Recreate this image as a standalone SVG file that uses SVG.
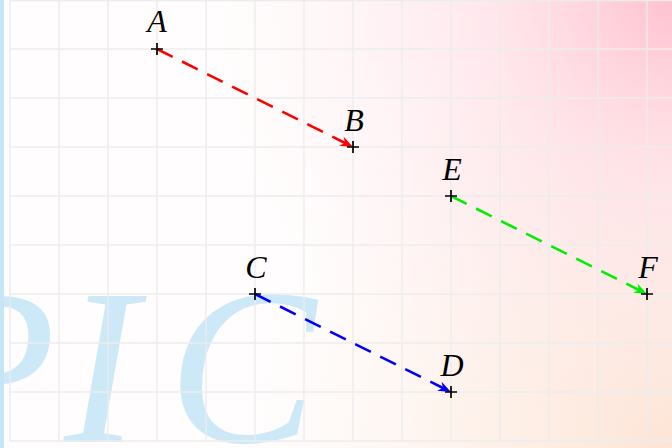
<svg xmlns="http://www.w3.org/2000/svg" width="672" height="448" viewBox="0 0 672 448">
<defs>
<radialGradient id="pink" cx="672" cy="0" r="460" gradientUnits="userSpaceOnUse">
<stop offset="0" stop-color="#ffc2cf" stop-opacity="1"/>
<stop offset="0.4" stop-color="#ffd6df" stop-opacity="0.55"/>
<stop offset="1" stop-color="#ffe8ec" stop-opacity="0"/>
</radialGradient>
<radialGradient id="peach" cx="672" cy="448" r="420" gradientUnits="userSpaceOnUse">
<stop offset="0" stop-color="#fde4d4" stop-opacity="1"/>
<stop offset="0.5" stop-color="#fdeade" stop-opacity="0.55"/>
<stop offset="1" stop-color="#fdf0e8" stop-opacity="0"/>
</radialGradient>
<marker id="arrR" viewBox="-14 -6 15 12" refX="0" refY="0" markerWidth="15" markerHeight="12" markerUnits="userSpaceOnUse" orient="auto"><path d="M0,0 L-13,-5 L-9,0 L-13,5 Z" fill="#ff0000"/></marker>
<marker id="arrG" viewBox="-14 -6 15 12" refX="0" refY="0" markerWidth="15" markerHeight="12" markerUnits="userSpaceOnUse" orient="auto"><path d="M0,0 L-13,-5 L-9,0 L-13,5 Z" fill="#00ee00"/></marker>
<marker id="arrB" viewBox="-14 -6 15 12" refX="0" refY="0" markerWidth="15" markerHeight="12" markerUnits="userSpaceOnUse" orient="auto"><path d="M0,0 L-13,-5 L-9,0 L-13,5 Z" fill="#0000ff"/></marker>
</defs>
<style>
.grid line{stroke:#ececec;stroke-width:1.3}
.pic{font-family:"Liberation Serif","DejaVu Serif",serif;font-style:italic;font-size:222px;fill:#cde9f8}
.lbl{font-family:"Liberation Serif","DejaVu Serif",serif;font-style:italic;font-size:32px;fill:#000;text-anchor:middle}
.mark{stroke:#000;stroke-width:1.7;fill:none}
.conn line{stroke-width:2.6;stroke-dasharray:17.5 10.5;fill:none}
</style>
<rect width="672" height="448" fill="#fffdfd"/>
<rect width="672" height="448" fill="url(#peach)"/>
<rect width="672" height="448" fill="url(#pink)"/>
<g id="watermark">
<text class="pic" x="-80" y="442">P</text>
<text class="pic" x="64" y="442">I</text>
<text class="pic" x="168" y="442">C</text>
</g>
<g class="grid">
<line x1="10" y1="0" x2="10" y2="441"/><line x1="59" y1="0" x2="59" y2="441"/><line x1="108" y1="0" x2="108" y2="441"/><line x1="157" y1="0" x2="157" y2="441"/><line x1="206" y1="0" x2="206" y2="441"/><line x1="255" y1="0" x2="255" y2="441"/><line x1="304" y1="0" x2="304" y2="441"/><line x1="353" y1="0" x2="353" y2="441"/><line x1="402" y1="0" x2="402" y2="441"/><line x1="451" y1="0" x2="451" y2="441"/><line x1="500" y1="0" x2="500" y2="441"/><line x1="549" y1="0" x2="549" y2="441"/><line x1="598" y1="0" x2="598" y2="441"/><line x1="647" y1="0" x2="647" y2="441"/>
<line x1="10" y1="0.7" x2="672" y2="0.7"/><line x1="10" y1="49" x2="672" y2="49"/><line x1="10" y1="98" x2="672" y2="98"/><line x1="10" y1="147" x2="672" y2="147"/><line x1="10" y1="196" x2="672" y2="196"/><line x1="10" y1="245" x2="672" y2="245"/><line x1="10" y1="294" x2="672" y2="294"/><line x1="10" y1="343" x2="672" y2="343"/><line x1="10" y1="392" x2="672" y2="392"/><line x1="10" y1="441" x2="672" y2="441"/>
</g>
<rect x="0" y="0" width="4" height="448" fill="#c6e6f8"/>
<g class="conn" id="connectors">
<line x1="157" y1="49" x2="353" y2="147" stroke="#ff0000" marker-end="url(#arrR)"/>
<line x1="451" y1="196" x2="647" y2="294" stroke="#00ee00" marker-end="url(#arrG)"/>
<line x1="255" y1="294" x2="451" y2="392" stroke="#0000ff" marker-end="url(#arrB)"/>
</g>
<g id="A"><path class="mark" d="M151,49H163M157,43V55"/><text class="lbl" x="157" y="32">A</text></g>
<g id="B"><path class="mark" d="M347,147H359M353,141V153"/><text class="lbl" x="354" y="131">B</text></g>
<g id="C"><path class="mark" d="M249,294H261M255,288V300"/><text class="lbl" x="256" y="278">C</text></g>
<g id="D"><path class="mark" d="M445,392H457M451,386V398"/><text class="lbl" x="452" y="376">D</text></g>
<g id="E"><path class="mark" d="M445,196H457M451,190V202"/><text class="lbl" x="452" y="180">E</text></g>
<g id="F"><path class="mark" d="M641,294H653M647,288V300"/><text class="lbl" x="648" y="278">F</text></g>
</svg>
